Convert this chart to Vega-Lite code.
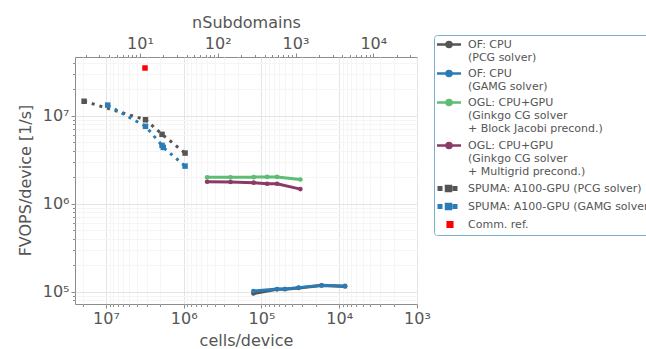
{
  "$schema": "https://vega.github.io/schema/vega-lite/v6.json",
  "width": 342,
  "height": 247,
  "autosize": {"type": "none"},
  "padding": {"left": 75, "top": 57, "right": 229, "bottom": 45},
  "config": {
    "font": "DejaVu Sans",
    "view": {"stroke": "#8c8c8c", "strokeWidth": 1},
    "axis": {
      "labelFont": "DejaVu Sans",
      "titleFont": "DejaVu Sans",
      "labelFontSize": 16,
      "titleFontSize": 16,
      "titleFontWeight": "normal",
      "labelColor": "#555555",
      "titleColor": "#555555",
      "domain": false,
      "labelOverlap": false,
      "labelFlush": false,
      "labelPadding": 2
    },
    "legend": {"labelFont": "DejaVu Sans"}
  },
  "data": {
    "values": [
      {"series": "OF: CPU|(PCG solver)", "cells": 127000, "fvops": 96000},
      {"series": "OF: CPU|(PCG solver)", "cells": 63000, "fvops": 107000},
      {"series": "OF: CPU|(PCG solver)", "cells": 50000, "fvops": 107500},
      {"series": "OF: CPU|(PCG solver)", "cells": 33300, "fvops": 111000},
      {"series": "OF: CPU|(PCG solver)", "cells": 16900, "fvops": 118500},
      {"series": "OF: CPU|(PCG solver)", "cells": 8400, "fvops": 115500},
      {"series": "OF: CPU|(GAMG solver)", "cells": 127000, "fvops": 102600},
      {"series": "OF: CPU|(GAMG solver)", "cells": 63000, "fvops": 108000},
      {"series": "OF: CPU|(GAMG solver)", "cells": 50000, "fvops": 108000},
      {"series": "OF: CPU|(GAMG solver)", "cells": 33300, "fvops": 112000},
      {"series": "OF: CPU|(GAMG solver)", "cells": 16900, "fvops": 119000},
      {"series": "OF: CPU|(GAMG solver)", "cells": 8400, "fvops": 117000},
      {"series": "OGL: CPU+GPU|(Ginkgo CG solver|+ Block Jacobi precond.)", "cells": 500000, "fvops": 2000000},
      {"series": "OGL: CPU+GPU|(Ginkgo CG solver|+ Block Jacobi precond.)", "cells": 250000, "fvops": 2000000},
      {"series": "OGL: CPU+GPU|(Ginkgo CG solver|+ Block Jacobi precond.)", "cells": 126000, "fvops": 2010000},
      {"series": "OGL: CPU+GPU|(Ginkgo CG solver|+ Block Jacobi precond.)", "cells": 84500, "fvops": 2020000},
      {"series": "OGL: CPU+GPU|(Ginkgo CG solver|+ Block Jacobi precond.)", "cells": 63000, "fvops": 2020000},
      {"series": "OGL: CPU+GPU|(Ginkgo CG solver|+ Block Jacobi precond.)", "cells": 31600, "fvops": 1890000},
      {"series": "OGL: CPU+GPU|(Ginkgo CG solver|+ Multigrid precond.)", "cells": 500000, "fvops": 1780000},
      {"series": "OGL: CPU+GPU|(Ginkgo CG solver|+ Multigrid precond.)", "cells": 250000, "fvops": 1770000},
      {"series": "OGL: CPU+GPU|(Ginkgo CG solver|+ Multigrid precond.)", "cells": 126000, "fvops": 1740000},
      {"series": "OGL: CPU+GPU|(Ginkgo CG solver|+ Multigrid precond.)", "cells": 84500, "fvops": 1690000},
      {"series": "OGL: CPU+GPU|(Ginkgo CG solver|+ Multigrid precond.)", "cells": 63000, "fvops": 1690000},
      {"series": "OGL: CPU+GPU|(Ginkgo CG solver|+ Multigrid precond.)", "cells": 31600, "fvops": 1470000},
      {"series": "SPUMA: A100-GPU (PCG solver)", "cells": 19100000, "fvops": 14600000},
      {"series": "SPUMA: A100-GPU (PCG solver)", "cells": 3100000, "fvops": 9000000},
      {"series": "SPUMA: A100-GPU (PCG solver)", "cells": 1900000, "fvops": 6150000},
      {"series": "SPUMA: A100-GPU (PCG solver)", "cells": 960000, "fvops": 3770000},
      {"series": "SPUMA: A100-GPU (GAMG solver)", "cells": 9500000, "fvops": 13200000},
      {"series": "SPUMA: A100-GPU (GAMG solver)", "cells": 3100000, "fvops": 7580000},
      {"series": "SPUMA: A100-GPU (GAMG solver)", "cells": 1900000, "fvops": 4610000},
      {"series": "SPUMA: A100-GPU (GAMG solver)", "cells": 1830000, "fvops": 4370000},
      {"series": "SPUMA: A100-GPU (GAMG solver)", "cells": 960000, "fvops": 2680000},
      {"series": "Comm. ref.", "nSub": 11.6, "fvops": 34800000}
    ]
  },
  "encoding": {
    "y": {
      "field": "fvops",
      "type": "quantitative",
      "scale": {"type": "log", "domain": [73000, 46400000], "nice": false},
      "axis": {
        "title": "FVOPS/device [1/s]",
        "titleX": -42,
        "titleY": 123,
        "titleAngle": -90,
        "titleAlign": "center",
        "titleBaseline": "bottom",
        "values": [80000, 90000, 100000, 200000, 300000, 400000, 500000, 600000, 700000, 800000, 900000, 1000000, 2000000, 3000000, 4000000, 5000000, 6000000, 7000000, 8000000, 9000000, 10000000, 20000000, 30000000, 40000000],
        "labelExpr": "abs(log(datum.value)/LN10 - round(log(datum.value)/LN10)) < 0.001 ? '10' + ['⁰','¹','²','³','⁴','⁵','⁶','⁷','⁸','⁹'][round(log(datum.value)/LN10)] : ''",
        "grid": true,
        "gridColor": {"condition": {"test": "abs(log(datum.value)/LN10 - round(log(datum.value)/LN10)) < 0.001", "value": "#e4e4e4"}, "value": "#f5f5f5"},
        "tickColor": "#8c8c8c",
        "tickSize": {"condition": {"test": "abs(log(datum.value)/LN10 - round(log(datum.value)/LN10)) < 0.001", "value": 4}, "value": 2.5}
      }
    },
    "color": {
      "field": "series",
      "type": "nominal",
      "scale": {
        "domain": ["OF: CPU|(PCG solver)", "OF: CPU|(GAMG solver)", "OGL: CPU+GPU|(Ginkgo CG solver|+ Block Jacobi precond.)", "OGL: CPU+GPU|(Ginkgo CG solver|+ Multigrid precond.)", "SPUMA: A100-GPU (PCG solver)", "SPUMA: A100-GPU (GAMG solver)", "Comm. ref."],
        "range": ["#555555", "#2b7bb5", "#5cbd73", "#8b3a66", "#555555", "#2b7bb5", "#ff0000"]
      },
      "legend": {
        "orient": "none",
        "legendX": 359,
        "legendY": -22,
        "title": null,
        "labelExpr": "split(datum.label, '|')",
        "labelFontSize": 11,
        "labelColor": "#555555",
        "labelLimit": 400,
        "labelOffset": 18,
        "symbolSize": 100,
        "symbolStrokeWidth": 2.5,
        "rowPadding": 3,
        "padding": 3,
        "strokeColor": "#7aaed0",
        "fillColor": "#ffffff",
        "cornerRadius": 3,
        "encode": {
          "symbols": {
            "update": {
              "shape": {"signal": "indexof(datum.value,'SPUMA')===0 ? 'M-0.95,-0.25h0.5v0.5h-0.5Z M2.05,-0.25h0.5v0.5h-0.5Z M0.5,-0.5h1v1h-1Z' : (datum.value==='Comm. ref.' ? 'M0.84,-0.46h0.92v0.92h-0.92Z' : 'M-1.3,0H3.5M0.6,0A0.5,0.5 0 1,0 1.6,0A0.5,0.5 0 1,0 0.6,0Z')"},
              "fill": {"signal": "scale('color', datum.value)"},
              "stroke": {"signal": "indexof(datum.value,'O')===0 ? scale('color', datum.value) : 'transparent'"},
              "strokeWidth": {"value": 2.5},
              "opacity": {"value": 1}
            }
          },
          "labels": {
            "update": {"lineHeight": {"value": 13.3}}
          }
        }
      }
    }
  },
  "layer": [
    {
      "encoding": {
        "x": {
          "field": "cells",
          "type": "quantitative",
          "scale": {"type": "log", "domain": [1000, 25000000], "reverse": true, "nice": false},
          "axis": {
            "orient": "bottom",
            "title": "cells/device",
            "titleX": 171,
            "titleY": 44,
            "titleAlign": "center",
            "titleBaseline": "bottom",
            "values": [1000, 2000, 3000, 4000, 5000, 6000, 7000, 8000, 9000, 10000, 20000, 30000, 40000, 50000, 60000, 70000, 80000, 90000, 100000, 200000, 300000, 400000, 500000, 600000, 700000, 800000, 900000, 1000000, 2000000, 3000000, 4000000, 5000000, 6000000, 7000000, 8000000, 9000000, 10000000, 20000000],
            "labelExpr": "abs(log(datum.value)/LN10 - round(log(datum.value)/LN10)) < 0.001 ? '10' + ['⁰','¹','²','³','⁴','⁵','⁶','⁷','⁸','⁹'][round(log(datum.value)/LN10)] : ''",
            "grid": true,
            "gridColor": {"condition": {"test": "abs(log(datum.value)/LN10 - round(log(datum.value)/LN10)) < 0.001", "value": "#e4e4e4"}, "value": "#f5f5f5"},
            "tickColor": "#8c8c8c",
            "tickSize": {"condition": {"test": "abs(log(datum.value)/LN10 - round(log(datum.value)/LN10)) < 0.001", "value": 4}, "value": 2.5}
          }
        }
      },
      "layer": [
        {
          "transform": [{"filter": "datum.series === 'OF: CPU|(PCG solver)'"}],
          "mark": {"type": "line", "strokeWidth": 3}
        },
        {
          "transform": [{"filter": "datum.series === 'OF: CPU|(PCG solver)'"}],
          "mark": {"type": "point", "filled": true, "size": 22, "opacity": 1}
        },
        {
          "transform": [{"filter": "indexof(datum.series,'O')===0 && datum.series !== 'OF: CPU|(PCG solver)'"}],
          "mark": {"type": "line", "strokeWidth": 3}
        },
        {
          "transform": [{"filter": "indexof(datum.series,'O')===0 && datum.series !== 'OF: CPU|(PCG solver)'"}],
          "mark": {"type": "point", "filled": true, "size": 22, "opacity": 1}
        },
        {
          "transform": [{"filter": "indexof(datum.series,'SPUMA')===0"}],
          "mark": {"type": "line", "strokeWidth": 3, "strokeDash": [3, 5]}
        },
        {
          "transform": [{"filter": "indexof(datum.series,'SPUMA')===0"}],
          "mark": {"type": "point", "filled": true, "shape": "square", "size": 30, "opacity": 1}
        }
      ]
    },
    {
      "transform": [{"filter": "datum.series === 'Comm. ref.'"}],
      "mark": {"type": "point", "shape": "square", "filled": true, "size": 30, "opacity": 1},
      "encoding": {
        "x": {
          "field": "nSub",
          "type": "quantitative",
          "scale": {"type": "log", "domain": [1.46, 36500], "nice": false},
          "axis": {
            "orient": "top",
            "title": "nSubdomains",
            "titleX": 171,
            "titleY": -27,
            "titleAlign": "center",
            "titleBaseline": "bottom",
            "values": [2, 3, 4, 5, 6, 7, 8, 9, 10, 20, 30, 40, 50, 60, 70, 80, 90, 100, 200, 300, 400, 500, 600, 700, 800, 900, 1000, 2000, 3000, 4000, 5000, 6000, 7000, 8000, 9000, 10000, 20000, 30000],
            "labelExpr": "abs(log(datum.value)/LN10 - round(log(datum.value)/LN10)) < 0.001 ? '10' + ['⁰','¹','²','³','⁴','⁵','⁶','⁷','⁸','⁹'][round(log(datum.value)/LN10)] : ''",
            "grid": false,
            "tickColor": "#8c8c8c",
            "tickSize": {"condition": {"test": "abs(log(datum.value)/LN10 - round(log(datum.value)/LN10)) < 0.001", "value": 4}, "value": 2.5}
          }
        }
      }
    }
  ],
  "resolve": {"scale": {"x": "independent"}}
}
